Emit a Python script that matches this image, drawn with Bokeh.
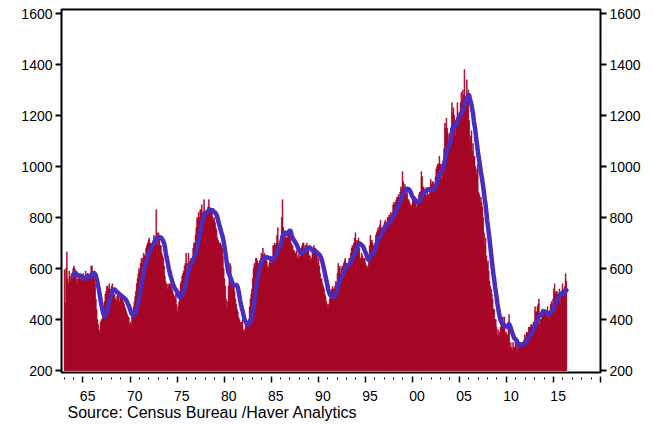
import pandas as pd
from bokeh.plotting import figure
from bokeh.models import Range1d, LinearAxis, FixedTicker, ColumnDataSource, Title
from bokeh.embed import file_html
from bokeh.resources import INLINE

# New home sales, monthly, thousands (SAAR), Jan 1963 - May 2016
sales_1963_1969 = [
    595, 465, 600, 665, 560, 540, 590, 570, 550, 580, 560, 600,
    610, 600, 570, 560, 540, 560, 560, 570, 560, 560, 550, 560,
    580, 560, 570, 590, 560, 580, 580, 560, 560, 580, 610, 610,
    590, 580, 590, 540, 480, 440, 400, 380, 360, 350, 390, 400,
    400, 420, 450, 470, 500, 510, 530, 530, 520, 540, 520, 500,
    530, 540, 500, 490, 500, 480, 470, 490, 510, 500, 470, 490,
    500, 480, 490, 470, 460, 450, 440, 430, 420, 410, 410, 380,
]
sales_1970s = [
    390, 380, 410, 430, 450, 470, 490, 510, 540, 560, 580, 600,
    590, 620, 640, 620, 640, 660, 650, 650, 680, 690, 700, 710,
    720, 700, 700, 690, 700, 710, 730, 700, 720, 830, 740, 690,
    740, 720, 690, 690, 660, 650, 640, 610, 570, 550, 540, 520,
    540, 530, 540, 540, 530, 520, 510, 500, 490, 480, 500, 460,
    430, 450, 470, 510, 540, 550, 570, 580, 590, 610, 620, 660,
    600, 620, 660, 620, 630, 640, 620, 640, 680, 700, 700, 730,
    760, 800, 790, 820, 800, 830, 830, 850, 820, 810, 870, 800,
    800, 820, 810, 840, 870, 840, 830, 830, 830, 800, 790, 800,
    780, 760, 750, 720, 710, 700, 700, 700, 690, 680, 650, 600,
]
sales_1980s = [
    560, 530, 480, 440, 470, 530, 580, 620, 610, 560, 550, 530,
    530, 510, 480, 460, 440, 430, 410, 400, 390, 380, 390, 400,
    360, 350, 360, 380, 390, 380, 390, 400, 450, 480, 500, 520,
    560, 600, 620, 610, 640, 640, 630, 620, 620, 630, 640, 660,
    650, 680, 650, 660, 650, 640, 630, 610, 600, 620, 640, 640,
    620, 640, 690, 690, 700, 690, 700, 730, 760, 690, 690, 680,
    720, 800, 870, 760, 740, 720, 730, 720, 720, 730, 730, 740,
    720, 700, 690, 690, 670, 670, 660, 660, 670, 640, 650, 660,
    640, 650, 680, 690, 700, 700, 680, 690, 690, 700, 680, 680,
    650, 650, 630, 640, 660, 680, 690, 680, 680, 670, 650, 620,
]
sales_1990s = [
    640, 610, 580, 560, 560, 540, 530, 520, 500, 490, 470, 460,
    440, 460, 480, 500, 510, 520, 530, 520, 520, 530, 550, 540,
    580, 620, 600, 610, 580, 600, 610, 600, 620, 630, 640, 620,
    620, 600, 620, 640, 640, 660, 680, 690, 680, 700, 720, 740,
    710, 700, 710, 720, 680, 640, 640, 660, 650, 640, 640, 640,
    620, 610, 600, 610, 650, 690, 730, 710, 710, 700, 690, 680,
    700, 730, 740, 750, 760, 750, 770, 790, 760, 750, 760, 770,
    780, 790, 780, 780, 800, 800, 810, 800, 820, 810, 820, 850,
    860, 850, 860, 870, 880, 880, 890, 880, 900, 920, 910, 980,
    940, 910, 930, 900, 890, 910, 870, 870, 860, 850, 840, 850,
]
sales_2000s = [
    880, 870, 880, 860, 860, 840, 860, 860, 890, 900, 900, 980,
    960, 920, 920, 900, 890, 890, 880, 900, 890, 880, 920, 950,
    930, 940, 940, 920, 930, 960, 990, 1000, 1010, 1010, 1040, 1010,
    1010, 950, 1000, 1020, 1070, 1170, 1150, 1190, 1150, 1130, 1080, 1120,
    1130, 1150, 1250, 1210, 1230, 1200, 1120, 1180, 1190, 1250, 1200, 1200,
    1200, 1250, 1290, 1260, 1300, 1280, 1380, 1270, 1240, 1340, 1260, 1300,
    1180, 1100, 1120, 1140, 1060, 1090, 1040, 1040, 1000, 970, 990, 1010,
    900, 890, 860, 880, 860, 840, 800, 740, 690, 720, 650, 620,
    630, 590, 550, 530, 520, 500, 480, 440, 440, 400, 400, 370,
    340, 360, 330, 350, 370, 400, 410, 410, 390, 410, 350, 350,
]
sales_2010_2016 = [
    340, 340, 390, 420, 290, 310, 290, 280, 310, 290, 290, 330,
    300, 270, 300, 310, 310, 310, 300, 300, 310, 310, 320, 340,
    330, 350, 350, 340, 370, 370, 370, 380, 380, 370, 390, 390,
    450, 430, 430, 450, 460, 480, 380, 400, 400, 440, 440, 420,
    440, 420, 420, 410, 450, 420, 400, 430, 460, 470, 450, 480,
    520, 540, 500, 510, 510, 480, 500, 520, 460, 490, 500, 540,
    520, 510, 530, 580, 550,
]

start_year = 1963
major_ticks = list(range(1965, 2021, 5))
minor_ticks = list(range(1963, 2021))
label_years = list(range(1965, 2016, 5))
label_texts = ["65", "70", "75", "80", "85", "90", "95", "00", "05", "10", "15"]
y_ticks = [200, 400, 600, 800, 1000, 1200, 1400, 1600]
ma_window = 12

sales = (sales_1963_1969 + sales_1970s + sales_1980s + sales_1990s
         + sales_2000s + sales_2010_2016)
x = [start_year + (i + 0.5) / 12 for i in range(len(sales))]
ma = pd.Series(sales, dtype=float).rolling(ma_window).mean().tolist()

src = ColumnDataSource(dict(x=x, sales=sales, ma=ma))

BAR = "#A50021"
LINE = "#4A2DBE"
FONT = "Liberation Sans"

p = figure(width=650, height=422,
           x_range=Range1d(1962.72, 2020.0), y_range=Range1d(192.2, 1615.7),
           x_axis_type=None, y_axis_type=None,
           output_backend="svg", toolbar_location=None,
           min_border_left=61, min_border_right=50,
           min_border_top=9, min_border_bottom=50)
p.grid.visible = False
p.outline_line_color = "black"
p.outline_line_width = 2
p.background_fill_color = "white"
p.border_fill_color = "white"

p.vbar(x="x", top="sales", bottom=200, width=1 / 12, source=src,
       fill_color=BAR, line_color=BAR, line_width=0.6)
p.line(x="x", y="ma", source=src, line_color=LINE, line_width=4.5,
       line_join="round", line_cap="round")

def yaxis():
    ax = LinearAxis(ticker=FixedTicker(ticks=y_ticks, minor_ticks=[]))
    ax.axis_line_color = None
    ax.major_tick_in = 0
    ax.major_tick_out = 6
    ax.major_tick_line_width = 2
    ax.major_tick_line_color = "black"
    ax.minor_tick_out = 0
    ax.minor_tick_in = 0
    ax.major_label_standoff = 3
    ax.major_label_text_font = FONT
    ax.major_label_text_font_size = "14px"
    ax.major_label_text_color = "black"
    return ax

p.add_layout(yaxis(), "left")
p.add_layout(yaxis(), "right")

# year tick marks (no labels drawn on this axis)
tick_axis = LinearAxis(ticker=FixedTicker(ticks=major_ticks, minor_ticks=minor_ticks))
tick_axis.axis_line_color = None
tick_axis.major_tick_in = -4
tick_axis.major_tick_out = 10
tick_axis.major_tick_line_width = 1.5
tick_axis.major_tick_line_color = "black"
tick_axis.minor_tick_in = -5
tick_axis.minor_tick_out = 7
tick_axis.minor_tick_line_width = 1
tick_axis.minor_tick_line_color = "black"
tick_axis.major_label_text_font_size = "2px"
tick_axis.major_label_text_color = None
tick_axis.major_label_standoff = 0
p.add_layout(tick_axis, "below")

# year labels centred in mid-year
label_pos = [yr + 0.5 for yr in label_years]
label_axis = LinearAxis(ticker=FixedTicker(ticks=label_pos, minor_ticks=[]))
label_axis.major_label_overrides = {pos: txt for pos, txt in zip(label_pos, label_texts)}
label_axis.axis_line_color = None
label_axis.major_tick_in = 0
label_axis.major_tick_out = 0
label_axis.minor_tick_in = 0
label_axis.minor_tick_out = 0
label_axis.major_label_standoff = 8
label_axis.major_label_text_font = FONT
label_axis.major_label_text_font_size = "14px"
label_axis.major_label_text_color = "black"
p.add_layout(label_axis, "below")

src_title = Title(text="Source:  Census Bureau /Haver Analytics", align="left",
                  offset=6, standoff=-4, text_font=FONT, text_font_size="16px",
                  text_font_style="normal", text_color="black")
p.add_layout(src_title, "below")

open("out.html", "w").write(file_html(p, INLINE))
